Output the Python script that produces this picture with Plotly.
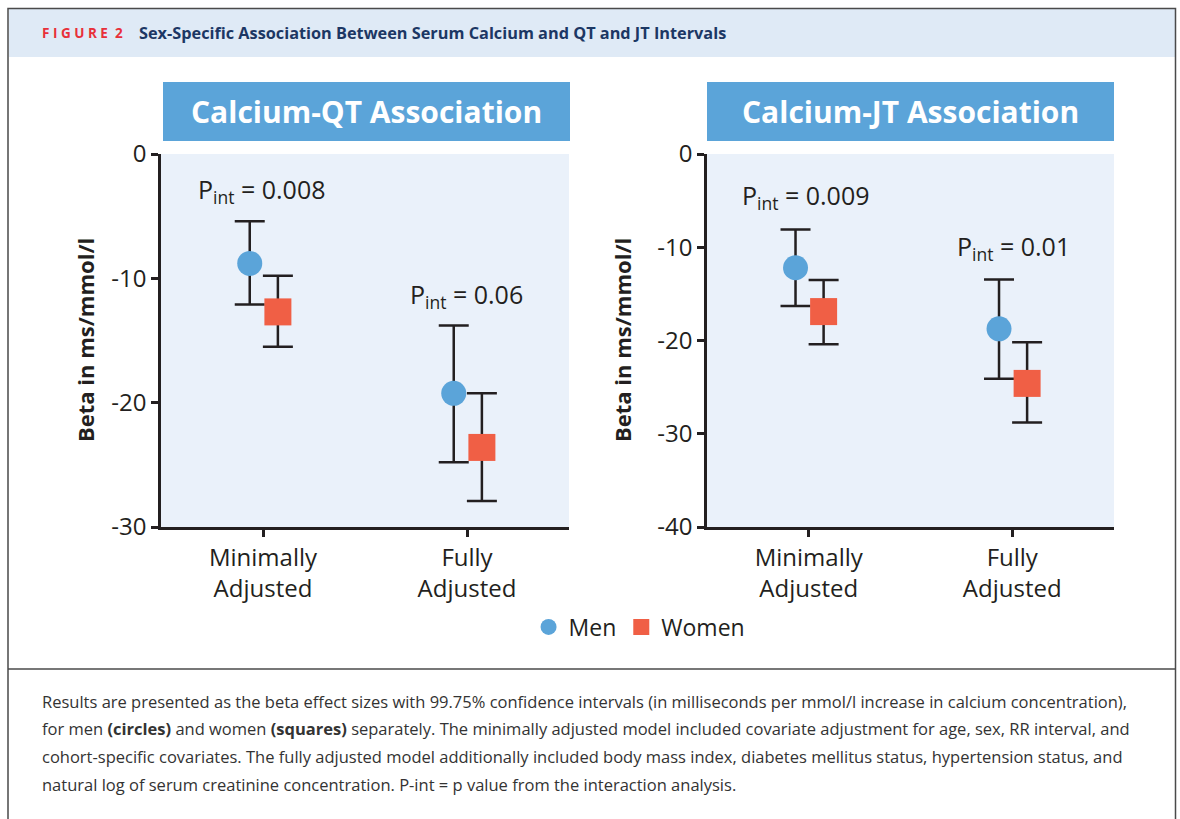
import plotly.graph_objects as go

W, H = 1180, 819

# categories / tick labels
categories = ["Minimally<br>Adjusted", "Fully<br>Adjusted"]
cat_pos = [0, 1]
qt_ticks = [0, -10, -20, -30]
jt_ticks = [0, -10, -20, -30, -40]

# Calcium-QT association (beta, upper CI, lower CI)
qt_men = [-8.8, -19.25]
qt_men_hi = [-5.4, -13.8]
qt_men_lo = [-12.1, -24.8]
qt_women = [-12.7, -23.6]
qt_women_hi = [-9.8, -19.25]
qt_women_lo = [-15.5, -27.9]

# Calcium-JT association
jt_men = [-12.2, -18.75]
jt_men_hi = [-8.1, -13.45]
jt_men_lo = [-16.3, -24.1]
jt_women = [-16.9, -24.6]
jt_women_hi = [-13.5, -20.2]
jt_women_lo = [-20.4, -28.8]

qt_pint = ["0.008", "0.06"]
jt_pint = ["0.009", "0.01"]

BLUE = "#5ba4d9"
RED = "#f05f45"
INK = "#231f20"
FONT = "Open Sans"


def px(x):
    return x / W


def py(y):
    return 1 - y / H


def add_series(fig, vals, hi, lo, name, color, symbol, size, shift, xa, ya, legend):
    fig.add_trace(go.Scatter(
        x=[c + shift for c in cat_pos],
        y=vals,
        mode='markers',
        name=name,
        showlegend=legend,
        marker=dict(color=color, symbol=symbol, size=size, line=dict(width=0)),
        error_y=dict(
            type='data', symmetric=False,
            array=[h - v for h, v in zip(hi, vals)],
            arrayminus=[v - l for v, l in zip(vals, lo)],
            color=INK, thickness=2.5, width=15
        ),
        xaxis=xa, yaxis=ya
    ))


fig = go.Figure()

add_series(fig, qt_men, qt_men_hi, qt_men_lo, 'Men', BLUE, 'circle', 25, -0.065, 'x', 'y', True)
add_series(fig, qt_women, qt_women_hi, qt_women_lo, 'Women', RED, 'square', 27, 0.073, 'x', 'y', True)
add_series(fig, jt_men, jt_men_hi, jt_men_lo, 'Men', BLUE, 'circle', 25, -0.065, 'x2', 'y2', False)
add_series(fig, jt_women, jt_women_hi, jt_women_lo, 'Women', RED, 'square', 27, 0.073, 'x2', 'y2', False)

tick_font = dict(family=FONT, size=24, color=INK, weight=500)

xaxis_common = dict(
    range=[-0.5, 1.5], tickvals=cat_pos, ticktext=categories,
    showline=True, linecolor=INK, linewidth=2.5, ticks='outside',
    ticklen=7, tickwidth=2.5, tickcolor=INK, showgrid=False, zeroline=False,
    tickfont=tick_font, fixedrange=True, automargin=False
)
yaxis_common = dict(
    showline=True, linecolor=INK, linewidth=2.5, ticks='outside',
    ticklen=7, tickwidth=2.5, tickcolor=INK, showgrid=False, zeroline=False,
    tickfont=tick_font, fixedrange=True, automargin=False
)

fig.update_layout(
    template='none',
    width=W, height=H,
    margin=dict(l=0, r=0, t=0, b=0, autoexpand=False),
    paper_bgcolor='white',
    plot_bgcolor='#eaf1fa',
    font=dict(family=FONT, color=INK),
    xaxis=dict(domain=[px(161), px(569)], anchor='y', **xaxis_common),
    yaxis=dict(domain=[py(527), py(154)], range=[-30, 0], anchor='x',
               tickvals=qt_ticks, ticktext=[str(t) for t in qt_ticks], **yaxis_common),
    xaxis2=dict(domain=[px(707), px(1114)], anchor='y2', **xaxis_common),
    yaxis2=dict(domain=[py(527), py(154)], range=[-40, 0], anchor='x2',
                tickvals=jt_ticks, ticktext=[str(t) for t in jt_ticks], **yaxis_common),
    legend=dict(
        orientation='h', x=0.542, xanchor='center', y=py(627), yanchor='middle',
        font=dict(family=FONT, size=23, color=INK, weight=500), bgcolor='rgba(0,0,0,0)',
        itemwidth=30
    ),
    showlegend=True
)

shapes = [
    # outer frame, header band, divider
    dict(type='rect', xref='paper', yref='paper', x0=px(8), x1=px(1175.5), y0=py(840), y1=py(8.5),
         line=dict(color='#4a4a4a', width=1.5), fillcolor='rgba(0,0,0,0)', layer='above'),
    dict(type='rect', xref='paper', yref='paper', x0=px(9), x1=px(1175), y0=py(57), y1=py(9),
         line=dict(width=0), fillcolor='#dfeaf6', layer='below'),
    dict(type='line', xref='paper', yref='paper', x0=px(8), x1=px(1176), y0=py(669), y1=py(669),
         line=dict(color='#4a4a4a', width=1.5)),
    # panel title boxes
    dict(type='rect', xref='paper', yref='paper', x0=px(163), x1=px(570), y0=py(141), y1=py(82),
         line=dict(width=0), fillcolor=BLUE),
    dict(type='rect', xref='paper', yref='paper', x0=px(707), x1=px(1114), y0=py(141), y1=py(82),
         line=dict(width=0), fillcolor=BLUE),
]
fig.update_layout(shapes=shapes)

ann = []
# header
ann.append(dict(xref='paper', yref='paper', x=px(40), y=py(33), xanchor='left', yanchor='middle',
                text='<b>F I G U R E  2</b>', showarrow=False,
                font=dict(family=FONT, size=13.5, color='#e8303a')))
ann.append(dict(xref='paper', yref='paper', x=px(137), y=py(33), xanchor='left', yanchor='middle',
                text='<b>Sex-Specific Association Between Serum Calcium and QT and JT Intervals</b>',
                showarrow=False, font=dict(family=FONT, size=16.3, color='#1c3764')))
# panel titles
for x0, txt in [(366.5, 'Calcium-QT Association'), (910.5, 'Calcium-JT Association')]:
    ann.append(dict(xref='paper', yref='paper', x=px(x0), y=py(112), xanchor='center', yanchor='middle',
                    text='<b>' + txt + '</b>', showarrow=False,
                    font=dict(family=FONT, size=30, color='white')))
# y-axis titles
for x0 in [85, 622]:
    ann.append(dict(xref='paper', yref='paper', x=px(x0), y=py(340), xanchor='center', yanchor='middle',
                    text='<b>Beta in ms/mmol/l</b>', textangle=-90, showarrow=False,
                    font=dict(family=FONT, size=22, color=INK)))
# interaction p-values
pint_pos = [('x', 'y', -0.33, -2.9, qt_pint[0]), ('x', 'y', 0.71, -11.4, qt_pint[1]),
            ('x2', 'y2', -0.336, -4.6, jt_pint[0]), ('x2', 'y2', 0.72, -10.0, jt_pint[1])]
for xa, ya, xv, yv, p in pint_pos:
    ann.append(dict(xref=xa, yref=ya, x=xv, y=yv, xanchor='left', yanchor='middle',
                    text='P<sub>int</sub> = ' + p, showarrow=False,
                    font=dict(family=FONT, size=25, color=INK, weight=500)))
# caption
caption = [
    'Results are presented as the beta effect sizes with 99.75% confidence intervals (in milliseconds per mmol/l increase in calcium concentration),',
    'for men <b>(circles)</b> and women <b>(squares)</b> separately. The minimally adjusted model included covariate adjustment for age, sex, RR interval, and',
    'cohort-specific covariates. The fully adjusted model additionally included body mass index, diabetes mellitus status, hypertension status, and',
    'natural log of serum creatinine concentration. P-int = p value from the interaction analysis.',
]
for i, line in enumerate(caption):
    ann.append(dict(xref='paper', yref='paper', x=px(40), y=py(701 + i * 27.7), xanchor='left',
                    yanchor='middle', text=line, showarrow=False,
                    font=dict(family=FONT, size=16.5, color='#333')))
fig.update_layout(annotations=ann)

# drop the page's default body margin so the figure sits at the top-left corner
fig.write_html("out.html", config={'displayModeBar': False},
               post_script="document.body.style.margin='0';")
